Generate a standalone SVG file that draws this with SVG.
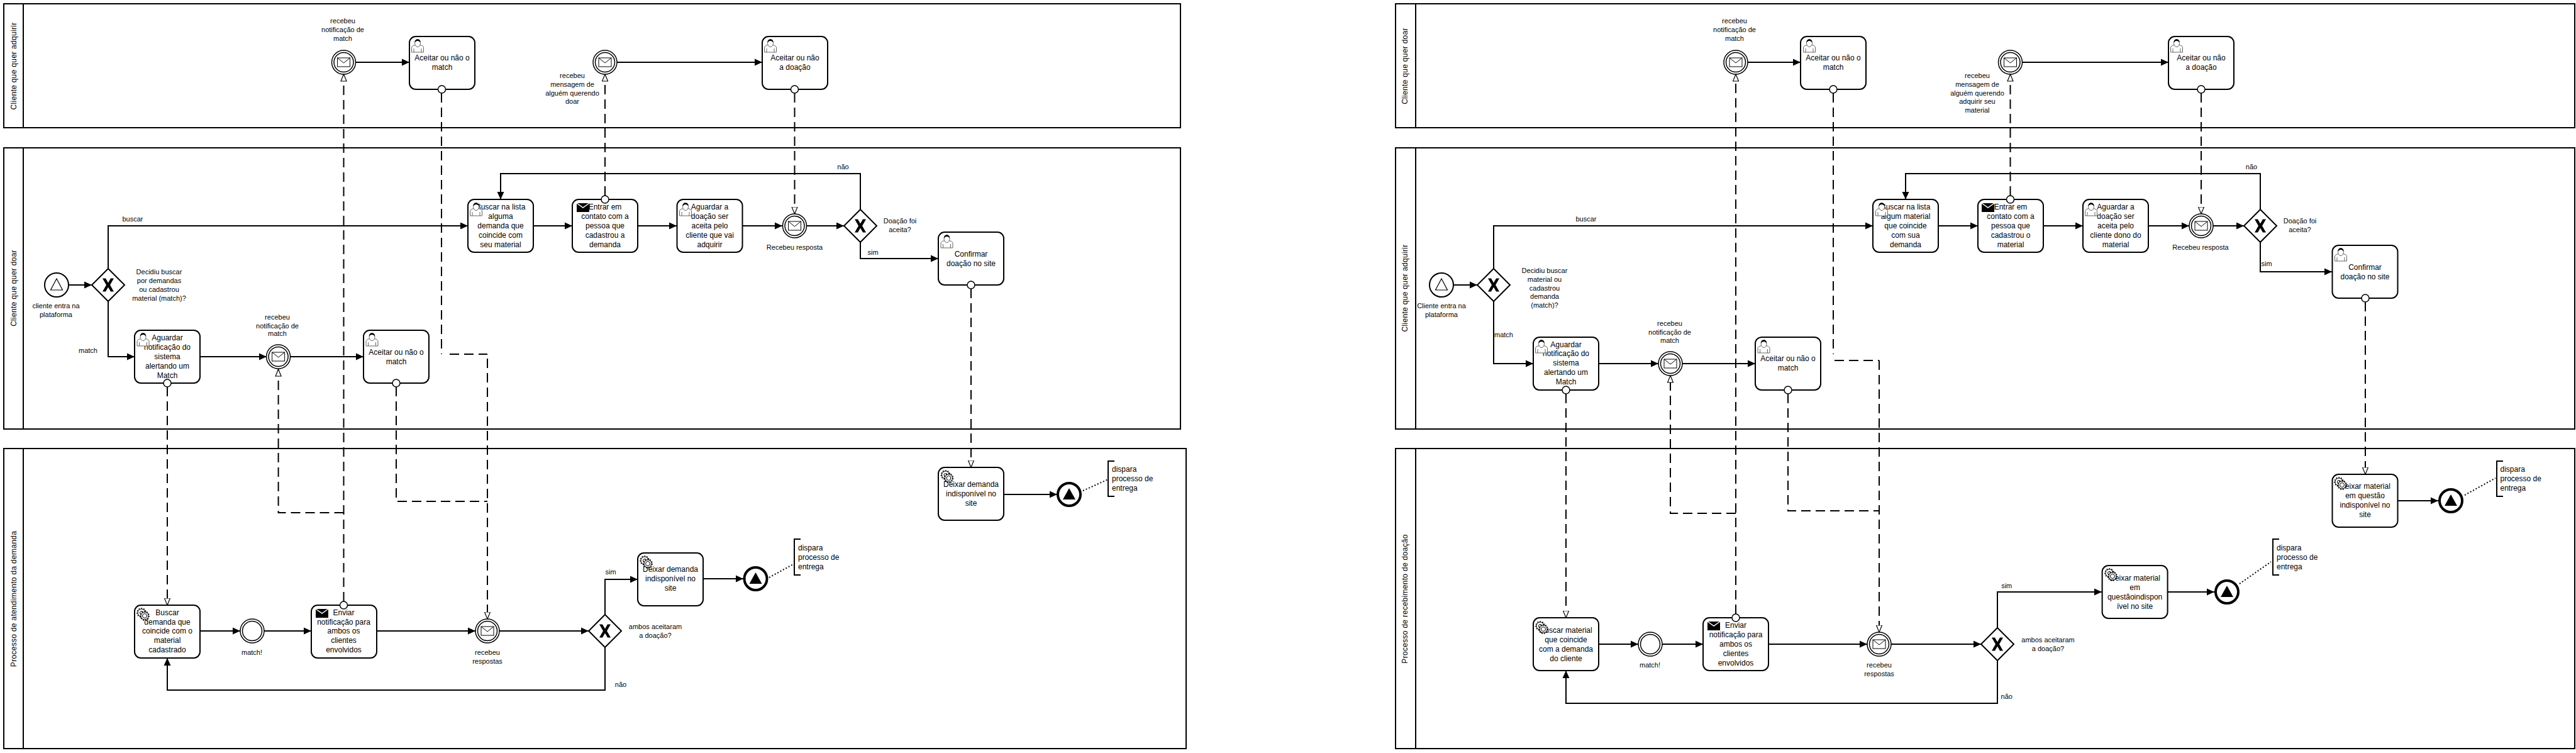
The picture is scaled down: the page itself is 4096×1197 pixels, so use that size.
<svg xmlns="http://www.w3.org/2000/svg" width="4096" height="1197" viewBox="0 0 4096 1197">
<style>
text{font-family:"Liberation Sans",Arial,sans-serif;fill:#000}
.t{font-size:12px;text-anchor:middle}
.l{font-size:11px;text-anchor:middle}
.n{font-size:12px;text-anchor:start}
.p{font-size:12px;text-anchor:middle;letter-spacing:.3px}
.pool{fill:#fff;stroke:#000;stroke-width:2}
.task{fill:#fff;stroke:#000;stroke-width:2}
.flow{fill:none;stroke:#000;stroke-width:2;marker-end:url(#arrow)}
.line{fill:none;stroke:#000;stroke-width:2}
.msg{fill:none;stroke:#000;stroke-width:2;stroke-dasharray:15 8;marker-end:url(#open)}
.seg{fill:none;stroke:#000;stroke-width:2;stroke-dasharray:15 8}
.dot{fill:none;stroke:#000;stroke-width:2;stroke-dasharray:2 3}
.br{fill:none;stroke:#000;stroke-width:2}
.c{fill:#fff;stroke:#000;stroke-width:1.5}
</style>
<defs>
<marker id="arrow" markerUnits="userSpaceOnUse" markerWidth="13" markerHeight="12" refX="12" refY="6" orient="auto"><path d="M0 0.5L12 6L0 11.5Z" fill="#000"/></marker>
<marker id="open" markerUnits="userSpaceOnUse" markerWidth="13" markerHeight="12" refX="11.5" refY="5.5" orient="auto"><path d="M0.5 1L11.5 5.5L0.5 10Z" fill="#fff" stroke="#000" stroke-width="1.2"/></marker>
<g id="user"><path d="M0.5 21V14Q0.5 10.5 6.5 9.5L10 12L13.5 9.5Q19.5 10.5 19.5 14V21Z" fill="#fff" stroke="#666"/><ellipse cx="10" cy="6.5" rx="4.5" ry="6" fill="#fff" stroke="#666"/><path d="M5.5 6Q5 .5 10 .5Q15 .5 14.5 6Q13 3 10 3Q7 3 5.5 6Z" fill="#000"/><path d="M4 21V15M16 21V15" stroke="#666" fill="none"/></g>
<g id="gear"><circle cx="8" cy="8" r="6" fill="#fff" stroke="#000"/><circle cx="8" cy="8" r="7" fill="none" stroke="#000" stroke-width="1.5" stroke-dasharray="2 2"/><circle cx="8" cy="8" r="2.5" fill="#fff" stroke="#000"/><circle cx="13" cy="13" r="6" fill="#fff" stroke="#000"/><circle cx="13" cy="13" r="7" fill="none" stroke="#000" stroke-width="1.5" stroke-dasharray="2 2"/><circle cx="13" cy="13" r="3.5" fill="#fff" stroke="#000"/></g>
<g id="send"><rect width="20" height="14" fill="#000"/><path d="M0 0L10 7L20 0" fill="none" stroke="#fff" stroke-width="1.5"/></g>
<g id="mail"><rect x="-10" y="-7" width="20" height="14" fill="#fff" stroke="#000"/><path d="M-10 -7L0 1L10 -7" fill="none" stroke="#000"/></g>
<g id="catch"><circle r="19" class="c"/><circle r="15.5" class="c"/></g>
<g id="gwx"><polygon points="0,-26 26,0 0,26 -26,0" fill="#fff" stroke="#000" stroke-width="2"/><path d="M-9 -10.5H-4L0 -3.5L4 -10.5H9L3 0L9 10.5H4L0 3.5L-4 10.5H-9L-3 0Z" fill="#000"/></g>
<g id="end"><circle r="18" fill="#fff" stroke="#000" stroke-width="4"/><polygon points="0,-10 10,8 -10,8" fill="#000"/></g>
</defs>

<g id="pools">
<g id="pool-l1"><rect class="pool" x="6" y="6" width="1871" height="197"/><path class="line" d="M37 6V203"/><text class="p" transform="translate(26 105) rotate(-90)">Cliente que quer adquirir</text></g>
<g id="pool-l2"><rect class="pool" x="6" y="235" width="1871" height="447"/><path class="line" d="M37 235V682"/><text class="p" transform="translate(26 458) rotate(-90)">Cliente que quer doar</text></g>
<g id="pool-l3"><rect class="pool" x="6" y="713" width="1880" height="477"/><path class="line" d="M37 713V1190"/><text class="p" transform="translate(26 952) rotate(-90)">Processo de atendimento da demanda</text></g>
<g id="pool-r1"><rect class="pool" x="2219" y="6" width="1875" height="197"/><path class="line" d="M2251 6V203"/><text class="p" transform="translate(2238 105) rotate(-90)">Cliente que quer doar</text></g>
<g id="pool-r2"><rect class="pool" x="2219" y="235" width="1875" height="447"/><path class="line" d="M2251 235V682"/><text class="p" transform="translate(2238 458) rotate(-90)">Cliente que quer adquirir</text></g>
<g id="pool-r3"><rect class="pool" x="2219" y="713" width="1875" height="477"/><path class="line" d="M2251 713V1190"/><text class="p" transform="translate(2238 952) rotate(-90)">Processo de recebimento de doação</text></g>
</g>

<g id="connectors">
<path class="flow" d="M566 99H651"/>
<path class="flow" d="M981 99H1212"/>
<path class="flow" d="M110 453H146"/>
<path class="flow" d="M172 427V359H744"/>
<path class="flow" d="M172 479V567H214"/>
<path class="flow" d="M848 359H910"/>
<path class="flow" d="M1014 359H1076"/>
<path class="flow" d="M1181 359H1244"/>
<path class="flow" d="M1283 359H1342"/>
<path class="flow" d="M1368 333V276H796V317"/>
<path class="flow" d="M1368 385V411H1492"/>
<path class="flow" d="M318 567H424"/>
<path class="flow" d="M462 567H578"/>
<path class="flow" d="M318 1003H382"/>
<path class="flow" d="M420 1003H495"/>
<path class="flow" d="M599 1003H756"/>
<path class="flow" d="M794 1003H936"/>
<path class="flow" d="M962 977V921H1014"/>
<path class="flow" d="M962 1029V1097H266V1046"/>
<path class="flow" d="M1118 920H1182"/>
<path class="flow" d="M1596 786H1681"/>
<path class="seg" d="M702 148V563"/>
<path class="seg" d="M715 563H775"/>
<path class="msg" d="M775 570V984"/>
<path class="seg" d="M630 615V797H775"/>
<path class="msg" d="M546.5 956V118"/>
<path class="msg" d="M546.5 815H442.6V587"/>
<path class="msg" d="M266 615V962"/>
<path class="msg" d="M962 311V118"/>
<path class="msg" d="M1263.5 148V340"/>
<path class="msg" d="M1544 459V743"/>
<path class="dot" d="M1722 780L1762 762"/>
<path class="dot" d="M1223 918L1263 896"/>
<path class="flow" d="M2779 99H2863"/>
<path class="flow" d="M3216 99H3448"/>
<path class="flow" d="M2312 453H2349"/>
<path class="flow" d="M2375 427V359H2978"/>
<path class="flow" d="M2375 479V578H2438"/>
<path class="flow" d="M3082 359H3145"/>
<path class="flow" d="M3249 359H3312"/>
<path class="flow" d="M3416 359H3481"/>
<path class="flow" d="M3519 359H3568"/>
<path class="flow" d="M3594 333V276H3030V317"/>
<path class="flow" d="M3594 385V432H3708"/>
<path class="flow" d="M2542 578H2637"/>
<path class="flow" d="M2675 578H2791"/>
<path class="flow" d="M2542 1024H2605"/>
<path class="flow" d="M2643 1024H2708"/>
<path class="flow" d="M2812 1024H2969"/>
<path class="flow" d="M3007 1024H3150"/>
<path class="flow" d="M3176 998V941H3342"/>
<path class="flow" d="M3176 1050V1118H2490V1066"/>
<path class="flow" d="M3447 941H3521"/>
<path class="flow" d="M3812 796H3877"/>
<path class="seg" d="M2915 148V563"/>
<path class="seg" d="M2917 573H2988"/>
<path class="msg" d="M2988 573V1005"/>
<path class="seg" d="M2843 626V812H2988"/>
<path class="msg" d="M2760 976V118"/>
<path class="msg" d="M2760 816H2656V597"/>
<path class="msg" d="M2490 626V982"/>
<path class="msg" d="M3196.5 311V118"/>
<path class="msg" d="M3500 148V340"/>
<path class="msg" d="M3761 480V754"/>
<path class="dot" d="M3919 787L3968 760"/>
<path class="dot" d="M3561 928L3611 893"/>
</g>

<g id="labels">
<text class="l"><tspan x="545" y="37">recebeu</tspan><tspan x="545" y="51">notificação de</tspan><tspan x="545" y="65">match</tspan></text>
<text class="l"><tspan x="910" y="124">recebeu</tspan><tspan x="910" y="138">mensagem de</tspan><tspan x="910" y="152">alguém querendo</tspan><tspan x="910" y="165">doar</tspan></text>
<text class="l" x="211" y="352">buscar</text>
<text class="l" x="1340.5" y="269">não</text>
<text class="l"><tspan x="1431" y="355">Doação foi</tspan><tspan x="1431" y="369">aceita?</tspan></text>
<text class="l" x="1263.5" y="397">Recebeu resposta</text>
<text class="l" x="1388" y="405">sim</text>
<text class="l"><tspan x="89" y="490">cliente entra na</tspan><tspan x="89" y="504">plataforma</tspan></text>
<text class="l"><tspan x="253" y="436">Decidiu buscar</tspan><tspan x="253" y="450">por demandas</tspan><tspan x="253" y="464">ou cadastrou</tspan><tspan x="253" y="478">material (match)?</tspan></text>
<text class="l" x="140" y="561">match</text>
<text class="l"><tspan x="441" y="508">recebeu</tspan><tspan x="441" y="522">notificação de</tspan><tspan x="441" y="534">match</tspan></text>
<text class="l" x="400.5" y="1041">match!</text>
<text class="l"><tspan x="775" y="1041">recebeu</tspan><tspan x="775" y="1055">respostas</tspan></text>
<text class="l"><tspan x="1042" y="1000">ambos aceitaram</tspan><tspan x="1042" y="1014">a doação?</tspan></text>
<text class="l" x="971" y="913">sim</text>
<text class="l" x="987" y="1092">não</text>

<text class="l"><tspan x="2758" y="37">recebeu</tspan><tspan x="2758" y="51">notificação de</tspan><tspan x="2758" y="65">match</tspan></text>
<text class="l"><tspan x="3144" y="124">recebeu</tspan><tspan x="3144" y="138">mensagem de</tspan><tspan x="3144" y="152">alguém querendo</tspan><tspan x="3144" y="165">adquirir seu</tspan><tspan x="3144" y="179">material</tspan></text>
<text class="l" x="2522" y="352">buscar</text>
<text class="l" x="3580" y="269">não</text>
<text class="l"><tspan x="3657" y="355">Doação foi</tspan><tspan x="3657" y="369">aceita?</tspan></text>
<text class="l" x="3499" y="397">Recebeu resposta</text>
<text class="l" x="3604" y="423">sim</text>
<text class="l"><tspan x="2292" y="490">Cliente entra na</tspan><tspan x="2292" y="504">plataforma</tspan></text>
<text class="l"><tspan x="2456" y="434">Decidiu buscar</tspan><tspan x="2456" y="448">material ou</tspan><tspan x="2456" y="462">cadastrou</tspan><tspan x="2456" y="475">demanda</tspan><tspan x="2456" y="489">(match)?</tspan></text>
<text class="l" x="2391" y="536">match</text>
<text class="l"><tspan x="2655" y="518">recebeu</tspan><tspan x="2655" y="532">notificação de</tspan><tspan x="2655" y="545">match</tspan></text>
<text class="l" x="2623.5" y="1061">match!</text>
<text class="l"><tspan x="2988" y="1061">recebeu</tspan><tspan x="2988" y="1075">respostas</tspan></text>
<text class="l"><tspan x="3256.5" y="1021">ambos aceitaram</tspan><tspan x="3256.5" y="1035">a doação?</tspan></text>
<text class="l" x="3190.7" y="935">sim</text>
<text class="l" x="3190.7" y="1111">não</text>
</g>

<g id="l-e1"><use href="#catch" x="546.5" y="99"/><use href="#mail" x="546.5" y="99"/></g>
<g id="l-t1"><rect class="task" x="651" y="58" width="104" height="84" rx="10"/><text class="t"><tspan x="703" y="96">Aceitar ou não o</tspan><tspan x="703" y="111">match</tspan></text><use href="#user" x="654" y="62"/><circle class="c" cx="702.5" cy="142" r="6"/></g>
<g id="l-e2"><use href="#catch" x="962" y="99"/><use href="#mail" x="962" y="99"/></g>
<g id="l-t2"><rect class="task" x="1212" y="58" width="104" height="84" rx="10"/><text class="t"><tspan x="1264" y="96">Aceitar ou não</tspan><tspan x="1264" y="111">a doação</tspan></text><use href="#user" x="1215" y="62"/><circle class="c" cx="1263.5" cy="142" r="6"/></g>
<g id="l-start"><circle cx="90" cy="453" r="19" fill="#fff" stroke="#000" stroke-width="2"/><polygon points="90,443 80.5,461 99.5,461" fill="#fff" stroke="#000" stroke-width="1.2"/></g>
<g id="l-g1"><use href="#gwx" x="172" y="453"/></g>
<g id="l-t3"><rect class="task" x="744" y="317" width="104" height="84" rx="10"/><text class="t"><tspan x="796" y="333">Buscar na lista</tspan><tspan x="796" y="348">alguma</tspan><tspan x="796" y="363">demanda que</tspan><tspan x="796" y="378">coincide com</tspan><tspan x="796" y="393">seu material</tspan></text><use href="#user" x="747" y="322"/></g>
<g id="l-t4"><rect class="task" x="910" y="317" width="104" height="84" rx="10"/><text class="t"><tspan x="962" y="333">Entrar em</tspan><tspan x="962" y="348">contato com a</tspan><tspan x="962" y="363">pessoa que</tspan><tspan x="962" y="378">cadastrou a</tspan><tspan x="962" y="393">demanda</tspan></text><use href="#send" x="917" y="323"/><circle class="c" cx="962" cy="317" r="6"/></g>
<g id="l-t5"><rect class="task" x="1076.5" y="317" width="104" height="84" rx="10"/><text class="t"><tspan x="1128.5" y="333">Aguardar a</tspan><tspan x="1128.5" y="348">doação ser</tspan><tspan x="1128.5" y="363">aceita pelo</tspan><tspan x="1128.5" y="378">cliente que vai</tspan><tspan x="1128.5" y="393">adquirir</tspan></text><use href="#user" x="1080" y="322"/></g>
<g id="l-e3"><use href="#catch" x="1263.5" y="359"/><use href="#mail" x="1263.5" y="359"/></g>
<g id="l-g2"><use href="#gwx" x="1368" y="359"/></g>
<g id="l-t6"><rect class="task" x="1492" y="369" width="104" height="84" rx="10"/><text class="t"><tspan x="1544" y="408">Confirmar</tspan><tspan x="1544" y="423">doação no site</tspan></text><use href="#user" x="1495.5" y="373"/><circle class="c" cx="1544" cy="453" r="6"/></g>
<g id="l-t7"><rect class="task" x="214" y="525" width="104" height="84" rx="10"/><text class="t"><tspan x="266" y="541">Aguardar</tspan><tspan x="266" y="556">notificação do</tspan><tspan x="266" y="571">sistema</tspan><tspan x="266" y="586">alertando um</tspan><tspan x="266" y="601">Match</tspan></text><use href="#user" x="217.5" y="529"/><circle class="c" cx="266" cy="609" r="6"/></g>
<g id="l-e4"><use href="#catch" x="442.6" y="567"/><use href="#mail" x="442.6" y="567"/></g>
<g id="l-t8"><rect class="task" x="578" y="525" width="104" height="84" rx="10"/><text class="t"><tspan x="630" y="564">Aceitar ou não o</tspan><tspan x="630" y="579">match</tspan></text><use href="#user" x="581.5" y="529"/><circle class="c" cx="630" cy="609" r="6"/></g>
<g id="l-t9"><rect class="task" x="1492" y="743" width="104" height="84" rx="10"/><text class="t"><tspan x="1544" y="774">Deixar demanda</tspan><tspan x="1544" y="789">indisponível no</tspan><tspan x="1544" y="804">site</tspan></text><use href="#gear" x="1495.5" y="747"/></g>
<g id="l-end1"><use href="#end" x="1700" y="786"/></g>
<g id="l-note1"><path class="br" d="M1772 733H1762V789H1772"/><text class="n"><tspan x="1768" y="750">dispara</tspan><tspan x="1768" y="765">processo de</tspan><tspan x="1768" y="780">entrega</tspan></text></g>
<g id="l-t10"><rect class="task" x="214" y="962" width="104" height="84" rx="10"/><text class="t"><tspan x="266" y="978">Buscar</tspan><tspan x="266" y="993">demanda que</tspan><tspan x="266" y="1007">coincide com o</tspan><tspan x="266" y="1022">material</tspan><tspan x="266" y="1037">cadastrado</tspan></text><use href="#gear" x="217" y="966"/></g>
<g id="l-e5"><use href="#catch" x="401" y="1003"/></g>
<g id="l-t11"><rect class="task" x="495" y="962" width="104" height="84" rx="10"/><text class="t"><tspan x="546.5" y="978">Enviar</tspan><tspan x="546.5" y="993">notificação para</tspan><tspan x="546.5" y="1007">ambos os</tspan><tspan x="546.5" y="1022">clientes</tspan><tspan x="546.5" y="1037">envolvidos</tspan></text><use href="#send" x="502" y="968"/><circle class="c" cx="546.5" cy="962" r="6"/></g>
<g id="l-e6"><use href="#catch" x="775" y="1003"/><use href="#mail" x="775" y="1003"/></g>
<g id="l-g3"><use href="#gwx" x="962" y="1003"/></g>
<g id="l-t12"><rect class="task" x="1014" y="879" width="104" height="84" rx="10"/><text class="t"><tspan x="1066" y="909">Deixar demanda</tspan><tspan x="1066" y="924">indisponível no</tspan><tspan x="1066" y="939">site</tspan></text><use href="#gear" x="1017" y="883"/></g>
<g id="l-end2"><use href="#end" x="1201.5" y="920"/></g>
<g id="l-note2"><path class="br" d="M1273 857H1263V914H1273"/><text class="n"><tspan x="1269" y="875">dispara</tspan><tspan x="1269" y="890">processo de</tspan><tspan x="1269" y="905">entrega</tspan></text></g>

<g id="r-e1"><use href="#catch" x="2760" y="99"/><use href="#mail" x="2760" y="99"/></g>
<g id="r-t1"><rect class="task" x="2863" y="58" width="104" height="84" rx="10"/><text class="t"><tspan x="2915" y="96">Aceitar ou não o</tspan><tspan x="2915" y="111">match</tspan></text><use href="#user" x="2867" y="62"/><circle class="c" cx="2915" cy="142" r="6"/></g>
<g id="r-e2"><use href="#catch" x="3196.5" y="99"/><use href="#mail" x="3196.5" y="99"/></g>
<g id="r-t2"><rect class="task" x="3448" y="58" width="104" height="84" rx="10"/><text class="t"><tspan x="3500" y="96">Aceitar ou não</tspan><tspan x="3500" y="111">a doação</tspan></text><use href="#user" x="3451" y="62"/><circle class="c" cx="3500" cy="142" r="6"/></g>
<g id="r-start"><circle cx="2292" cy="453" r="19" fill="#fff" stroke="#000" stroke-width="2"/><polygon points="2292,443 2282.5,461 2301.5,461" fill="#fff" stroke="#000" stroke-width="1.2"/></g>
<g id="r-g1"><use href="#gwx" x="2375" y="453"/></g>
<g id="r-t3"><rect class="task" x="2978" y="317" width="104" height="84" rx="10"/><text class="t"><tspan x="3030" y="333">Buscar na lista</tspan><tspan x="3030" y="348">algum material</tspan><tspan x="3030" y="363">que coincide</tspan><tspan x="3030" y="378">com sua</tspan><tspan x="3030" y="393">demanda</tspan></text><use href="#user" x="2982" y="322"/></g>
<g id="r-t4"><rect class="task" x="3145" y="317" width="104" height="84" rx="10"/><text class="t"><tspan x="3197" y="333">Entrar em</tspan><tspan x="3197" y="348">contato com a</tspan><tspan x="3197" y="363">pessoa que</tspan><tspan x="3197" y="378">cadastrou o</tspan><tspan x="3197" y="393">material</tspan></text><use href="#send" x="3151" y="323"/><circle class="c" cx="3196.5" cy="317" r="6"/></g>
<g id="r-t5"><rect class="task" x="3312" y="317" width="104" height="84" rx="10"/><text class="t"><tspan x="3364" y="333">Aguardar a</tspan><tspan x="3364" y="348">doação ser</tspan><tspan x="3364" y="363">aceita pelo</tspan><tspan x="3364" y="378">cliente dono do</tspan><tspan x="3364" y="393">material</tspan></text><use href="#user" x="3315" y="322"/></g>
<g id="r-e3"><use href="#catch" x="3500" y="359"/><use href="#mail" x="3500" y="359"/></g>
<g id="r-g2"><use href="#gwx" x="3594" y="359"/></g>
<g id="r-t6"><rect class="task" x="3708.5" y="390" width="104" height="84" rx="10"/><text class="t"><tspan x="3760.5" y="429">Confirmar</tspan><tspan x="3760.5" y="444">doação no site</tspan></text><use href="#user" x="3712" y="394"/><circle class="c" cx="3761" cy="474" r="6"/></g>
<g id="r-t7"><rect class="task" x="2438" y="536" width="104" height="84" rx="10"/><text class="t"><tspan x="2490" y="552">Aguardar</tspan><tspan x="2490" y="566">notificação do</tspan><tspan x="2490" y="581">sistema</tspan><tspan x="2490" y="596">alertando um</tspan><tspan x="2490" y="611">Match</tspan></text><use href="#user" x="2441" y="540"/><circle class="c" cx="2490" cy="620" r="6"/></g>
<g id="r-e4"><use href="#catch" x="2656" y="578"/><use href="#mail" x="2656" y="578"/></g>
<g id="r-t8"><rect class="task" x="2791" y="536" width="104" height="84" rx="10"/><text class="t"><tspan x="2843" y="574">Aceitar ou não o</tspan><tspan x="2843" y="589">match</tspan></text><use href="#user" x="2794.5" y="540"/><circle class="c" cx="2843" cy="620" r="6"/></g>
<g id="r-t9"><rect class="task" x="3708.5" y="754" width="104" height="84" rx="10"/><text class="t"><tspan x="3760.5" y="777">Deixar material</tspan><tspan x="3760.5" y="792">em questão</tspan><tspan x="3760.5" y="807">indisponível no</tspan><tspan x="3760.5" y="822">site</tspan></text><use href="#gear" x="3711" y="758"/></g>
<g id="r-end1"><use href="#end" x="3897" y="796"/></g>
<g id="r-note1"><path class="br" d="M3980 733H3970V789H3980"/><text class="n"><tspan x="3975.5" y="750">dispara</tspan><tspan x="3975.5" y="765">processo de</tspan><tspan x="3975.5" y="780">entrega</tspan></text></g>
<g id="r-t10"><rect class="task" x="2438" y="982" width="104" height="84" rx="10"/><text class="t"><tspan x="2490" y="1006">Buscar material</tspan><tspan x="2490" y="1021">que coincide</tspan><tspan x="2490" y="1036">com a demanda</tspan><tspan x="2490" y="1051">do cliente</tspan></text><use href="#gear" x="2441" y="987"/></g>
<g id="r-e5"><use href="#catch" x="2624" y="1024"/></g>
<g id="r-t11"><rect class="task" x="2708" y="982" width="104" height="84" rx="10"/><text class="t"><tspan x="2760" y="998">Enviar</tspan><tspan x="2760" y="1013">notificação para</tspan><tspan x="2760" y="1028">ambos os</tspan><tspan x="2760" y="1043">clientes</tspan><tspan x="2760" y="1058">envolvidos</tspan></text><use href="#send" x="2715" y="988"/><circle class="c" cx="2760" cy="982" r="6"/></g>
<g id="r-e6"><use href="#catch" x="2988" y="1024"/><use href="#mail" x="2988" y="1024"/></g>
<g id="r-g3"><use href="#gwx" x="3176" y="1024"/></g>
<g id="r-t12"><rect class="task" x="3342.6" y="899" width="104" height="84" rx="10"/><text class="t"><tspan x="3394.6" y="923">Deixar material</tspan><tspan x="3394.6" y="938">em</tspan><tspan x="3394.6" y="953">questãoindispon</tspan><tspan x="3394.6" y="968">ível no site</tspan></text><use href="#gear" x="3346" y="903"/></g>
<g id="r-end2"><use href="#end" x="3541" y="941"/></g>
<g id="r-note2"><path class="br" d="M3624 857H3614V914H3624"/><text class="n"><tspan x="3620" y="875">dispara</tspan><tspan x="3620" y="890">processo de</tspan><tspan x="3620" y="905">entrega</tspan></text></g>
</svg>
